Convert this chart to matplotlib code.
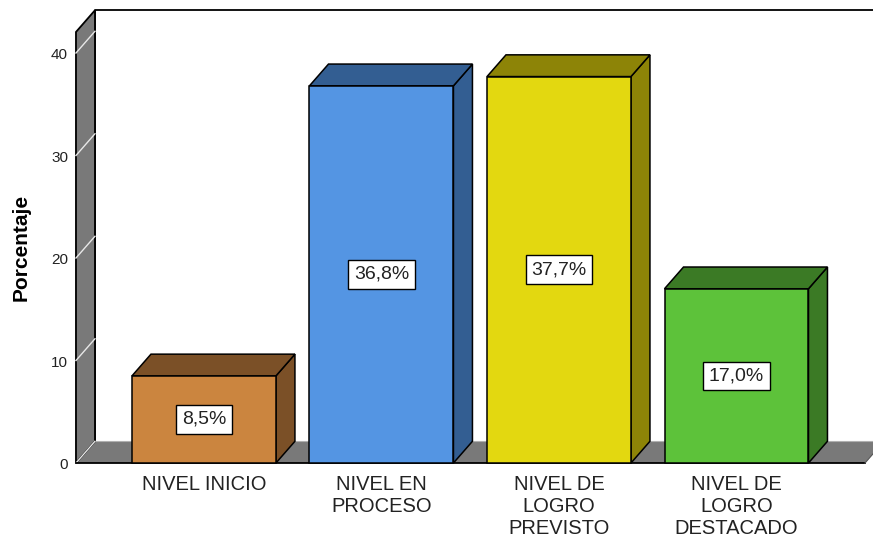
import matplotlib
matplotlib.use("Agg")
import matplotlib.pyplot as plt
from matplotlib.patches import Polygon

# data
categorias = ["NIVEL INICIO", "NIVEL EN\nPROCESO", "NIVEL DE\nLOGRO\nPREVISTO", "NIVEL DE\nLOGRO\nDESTACADO"]
porcentajes = [8.5, 36.8, 37.7, 17.0]
etiquetas = ["8,5%", "36,8%", "37,7%", "17,0%"]
ticks_y = [0, 10, 20, 30, 40]

colores_frente = ["#cb853f", "#5495e3", "#e3d810", "#5dc23a"]
colores_lado = ["#7b5027", "#335e92", "#8d8407", "#3b7a25"]

plt.rcParams['font.family'] = ['Liberation Sans', 'DejaVu Sans']

fig = plt.figure(figsize=(8.73, 5.4), dpi=100)
ax = fig.add_axes([0, 0, 1, 1])
ax.set_xlim(-1.149, 3.769)
ax.set_ylim(-7.51, 45.17)
ax.axis("off")

ancho = 0.811      # bar width in category units
dx, dy = 0.107, 2.12   # depth offset
x0, x1 = -0.721, 3.724
ytop = 42.05

# back wall outline
ax.plot([x0 + dx, x0 + dx, x1 + dx + 0.2], [dy, ytop + dy, ytop + dy], color="black", lw=1.3, zorder=1)

# floor
ax.add_patch(Polygon([(x0, 0), (x1, 0), (x1 + dx, dy), (x0 + dx, dy)],
                     closed=True, facecolor="#797979", edgecolor="none", zorder=2))
ax.plot([x0 + dx, x1 + dx], [dy, dy], color="#b0b0b0", lw=0.8, zorder=2)

# left wall
ax.add_patch(Polygon([(x0, 0), (x0, ytop), (x0 + dx, ytop + dy), (x0 + dx, dy)],
                     closed=True, facecolor="#797979", edgecolor="black", lw=1.3, zorder=3))
for t in ticks_y:
    ax.plot([x0, x0 + dx], [t, t + dy], color="#e8e8e8", lw=1.0, zorder=4)
    ax.text(x0 - 0.045, t - 0.2, str(t), ha="right", va="center", fontsize=11, color="#222222")

# front floor line
ax.plot([x0, x1], [0, 0], color="black", lw=1.3, zorder=4)
ax.plot([x1, x1 + dx], [0, dy], color="#555555", lw=0.8, zorder=4)

# bars
for i, (v, cf, cl) in enumerate(zip(porcentajes, colores_frente, colores_lado)):
    l, r = i - ancho / 2, i + ancho / 2
    ax.add_patch(Polygon([(r, 0), (r + dx, dy), (r + dx, v + dy), (r, v)],
                         closed=True, facecolor=cl, edgecolor="black", lw=1.1, zorder=5))
    ax.add_patch(Polygon([(l, v), (r, v), (r + dx, v + dy), (l + dx, v + dy)],
                         closed=True, facecolor=cl, edgecolor="black", lw=1.1, zorder=5))
    ax.add_patch(Polygon([(l, 0), (r, 0), (r, v), (l, v)],
                         closed=True, facecolor=cf, edgecolor="black", lw=1.1, zorder=6))
    ax.text(i, v / 2, etiquetas[i], ha="center", va="center", fontsize=14, color="#222222", zorder=7,
            bbox=dict(boxstyle="square,pad=0.3", facecolor="white", edgecolor="black", lw=1.0))
    ax.text(i, -1.2, categorias[i], ha="center", va="top", fontsize=14.5, color="#222222",
            linespacing=1.2)

ax.text(-1.03, 21.0, "Porcentaje", rotation=90, ha="center", va="center",
        fontsize=15, fontweight="bold", color="black")

fig.savefig("out.png", dpi=100)
